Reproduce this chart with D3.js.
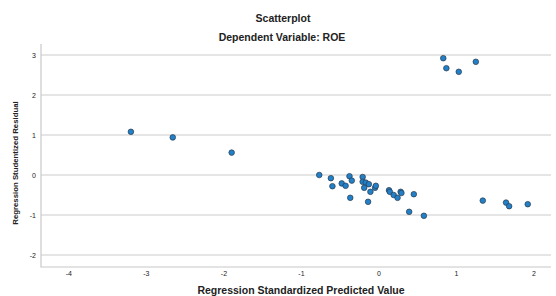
<!DOCTYPE html>
<html>
<head>
<meta charset="utf-8">
<script src="https://cdn.jsdelivr.net/npm/d3@7"></script>
<style>
    body { margin: 0; background: #fff; }
    text { font-family: "Liberation Sans", Arial, sans-serif; fill: #222; }
</style>
</head>
<body>
<div id="chart"></div>
<script>
// predicted values (x) and studentized residuals (y)
var predicted = [
    -3.20, -2.66, -1.90, 0.83, 0.87, 1.03, 1.25,
    -0.77, -0.62, -0.60, -0.48, -0.43, -0.38, -0.35, -0.37,
    -0.21, -0.21, -0.17, -0.13, -0.19, -0.11, -0.05, -0.04, -0.14,
    0.13, 0.14, 0.19, 0.24, 0.28, 0.29, 0.45, 0.39, 0.58,
    1.34, 1.64, 1.68, 1.92
]
var residuals = [
    1.08, 0.94, 0.56, 2.92, 2.67, 2.58, 2.83,
    0.00, -0.08, -0.28, -0.21, -0.27, -0.03, -0.14, -0.57,
    -0.05, -0.17, -0.19, -0.23, -0.32, -0.42, -0.32, -0.27, -0.67,
    -0.38, -0.42, -0.50, -0.57, -0.42, -0.45, -0.48, -0.92, -1.02,
    -0.64, -0.69, -0.78, -0.73
]
var xTicks = [-4, -3, -2, -1, 0, 1, 2]
var yTicks = [-2, -1, 0, 1, 2, 3]

var width = 556, height = 296
var plot = {left: 41, right: 551, top: 44, bottom: 267}

var svg = d3.select('#chart').append('svg')
    .attr('width', width)
    .attr('height', height)

var x = d3.scaleLinear().domain([-4.36, 2.22]).range([plot.left, plot.right])
var y = d3.scaleLinear().domain([-2.3, 3.275]).range([plot.bottom, plot.top])

// grid lines
svg.append('g').selectAll('line')
    .data(yTicks)
    .enter().append('line')
    .attr('x1', plot.left).attr('x2', plot.right)
    .attr('y1', function(d) { return y(d) }).attr('y2', function(d) { return y(d) })
    .attr('stroke', '#dcdcdc')
    .attr('stroke-width', 1.5)

// frame (left + bottom)
svg.append('path')
    .attr('d', 'M' + plot.left + ',' + plot.top + 'V' + plot.bottom + 'H' + plot.right)
    .attr('fill', 'none')
    .attr('stroke', '#c8c8c8')
    .attr('stroke-width', 1.2)

// y tick labels
svg.append('g').selectAll('text')
    .data(yTicks)
    .enter().append('text')
    .attr('x', plot.left - 5)
    .attr('y', function(d) { return y(d) + 2.5 })
    .attr('text-anchor', 'end')
    .style('font-size', '7px')
    .text(function(d) { return d })

// x tick labels
svg.append('g').selectAll('text')
    .data(xTicks)
    .enter().append('text')
    .attr('x', function(d) { return x(d) })
    .attr('y', 276)
    .attr('text-anchor', 'middle')
    .style('font-size', '7px')
    .text(function(d) { return d })

// points
svg.append('g').selectAll('circle')
    .data(predicted.map(function(v, i) { return [v, residuals[i]] }))
    .enter().append('circle')
    .attr('cx', function(d) { return x(d[0]) })
    .attr('cy', function(d) { return y(d[1]) })
    .attr('r', 2.8)
    .attr('fill', '#2180c8')
    .attr('stroke', '#2a3a4a')
    .attr('stroke-width', 0.7)

// titles
svg.append('text')
    .attr('x', 283).attr('y', 22)
    .attr('text-anchor', 'middle')
    .style('font-size', '10.5px').style('font-weight', 'bold')
    .text('Scatterplot')
svg.append('text')
    .attr('x', 282).attr('y', 41)
    .attr('text-anchor', 'middle')
    .style('font-size', '10.5px').style('font-weight', 'bold')
    .text('Dependent Variable: ROE')
svg.append('text')
    .attr('x', 301).attr('y', 294)
    .attr('text-anchor', 'middle')
    .style('font-size', '10.5px').style('font-weight', 'bold')
    .text('Regression Standardized Predicted Value')
svg.append('text')
    .attr('transform', 'translate(18,163) rotate(-90)')
    .attr('text-anchor', 'middle')
    .style('font-size', '7.8px').style('font-weight', 'bold')
    .text('Regression Studentized Residual')
</script>
</body>
</html>
